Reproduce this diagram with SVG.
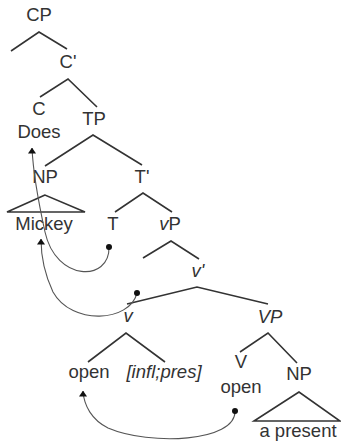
<svg xmlns="http://www.w3.org/2000/svg" width="341" height="444" viewBox="0 0 341 444">
  <style>
    .lbl { font-family: "Liberation Sans", Arial, sans-serif; font-size: 18.5px; fill: #333; text-anchor: middle; }
    .it { font-style: italic; }
    .br { fill: none; stroke: #333; stroke-width: 1.6; stroke-linejoin: miter; }
    .mv { fill: none; stroke: #555; stroke-width: 1.1; }
    .dot { fill: #111; }
  </style>
  <defs>
    <!-- upward-pointing arrowhead for movement arcs -->
    <marker id="head" viewBox="0 0 10 8" refX="5" refY="0.5" markerWidth="8" markerHeight="6.4" markerUnits="userSpaceOnUse" orient="0">
      <path d="M0,7.5 L5,0 L10,7.5 Z" fill="#111"/>
    </marker>
  </defs>

  <rect width="341" height="444" fill="#fff"/>

  <g id="CP">
    <text class="lbl" x="39" y="21">CP</text>
    <polyline class="br" points="11,51 39,32 67,49"/>
  </g>
  <g id="Cbar">
    <text class="lbl" x="68" y="68">C'</text>
    <polyline class="br" points="40,97 68,79 97,107"/>
  </g>
  <g id="C">
    <text class="lbl" x="39" y="115">C</text>
    <text class="lbl" x="39" y="138">Does</text>
  </g>
  <g id="TP">
    <text class="lbl" x="94" y="125">TP</text>
    <polyline class="br" points="45,166 93,135 142,165"/>
  </g>
  <g id="NP-subj">
    <text class="lbl" x="45" y="183">NP</text>
    <polygon class="br" points="45,195 7,212 85,212"/>
    <text class="lbl" x="44" y="230">Mickey</text>
  </g>
  <g id="Tbar">
    <text class="lbl" x="142" y="183">T'</text>
    <polyline class="br" points="115,212 143,193 172,212"/>
  </g>
  <g id="T">
    <text class="lbl" x="113" y="230">T</text>
  </g>
  <g id="vP">
    <text class="lbl" x="170" y="230"><tspan class="it">v</tspan>P</text>
    <polyline class="br" points="143,258 171,241 199,259"/>
  </g>
  <g id="vbar">
    <text class="lbl it" x="198" y="277">v'</text>
    <polyline class="br" points="127,304 197,287 268,304"/>
  </g>
  <g id="v">
    <text class="lbl it" x="128" y="322">v</text>
    <polyline class="br" points="88,362 126,333 165,362"/>
    <text class="lbl" x="89" y="378">open</text>
    <text class="lbl it" x="164" y="378">[infl;pres]</text>
  </g>
  <g id="VP">
    <text class="lbl it" x="270" y="323">VP</text>
    <polyline class="br" points="240,352 268,333 297,363"/>
  </g>
  <g id="V">
    <text class="lbl" x="241" y="368">V</text>
    <text class="lbl" x="241" y="393">open</text>
  </g>
  <g id="NP-obj">
    <text class="lbl" x="299" y="380">NP</text>
    <polygon class="br" points="299,392 254,421 340,421"/>
    <text class="lbl" x="298" y="437">a present</text>
  </g>

  <g id="connectors">
    <path class="mv" d="M109,247 C110,282 56,282 45,232 C38,200 33,170 32,148" marker-end="url(#head)"/>
    <circle class="dot" cx="109" cy="247" r="3"/>
    <path class="mv" d="M137,293 C130,322 72,326 53,292 C45,275 41,258 41,239" marker-end="url(#head)"/>
    <circle class="dot" cx="137" cy="293" r="3"/>
    <path class="mv" d="M235,411 C236,442 150,446 108,428 C92,420 84,406 83,391" marker-end="url(#head)"/>
    <circle class="dot" cx="235" cy="411" r="3"/>
  </g>
</svg>
